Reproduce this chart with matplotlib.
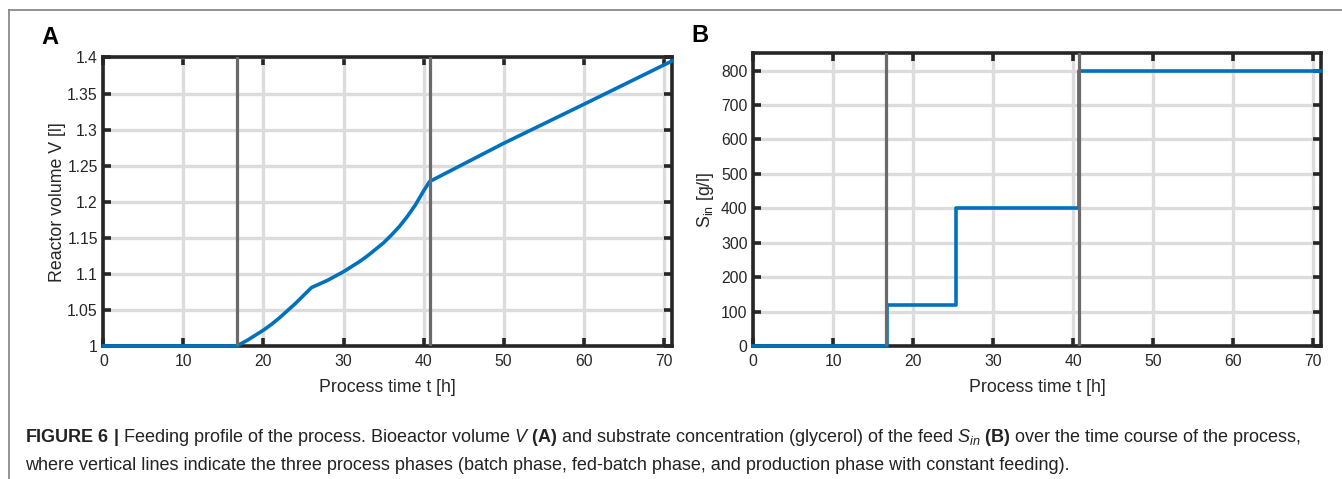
import matplotlib
matplotlib.use("Agg")
import matplotlib.pyplot as plt
from matplotlib.lines import Line2D

plt.rcParams['font.family'] = ['Liberation Sans', 'DejaVu Sans']
plt.rcParams['mathtext.fontset'] = 'custom'
plt.rcParams['mathtext.rm'] = 'Liberation Sans'
plt.rcParams['mathtext.it'] = 'Liberation Sans:italic'
plt.rcParams['mathtext.bf'] = 'Liberation Sans:bold'

# data
t_volume = [0, 16.6, 17, 18, 19, 20, 21, 22, 23, 24, 25, 26, 27, 28, 29, 30, 31, 32, 33,
            34, 35, 36, 37, 38, 39, 40, 40.75, 50, 60, 71]
volume = [1.0, 1.0, 1.002, 1.008, 1.015, 1.022, 1.030, 1.039, 1.049, 1.059, 1.070, 1.081,
          1.086, 1.091, 1.097, 1.103, 1.110, 1.117, 1.125, 1.134, 1.143, 1.154, 1.166,
          1.180, 1.196, 1.215, 1.228, 1.281, 1.335, 1.395]

t_feed = [0, 16.7, 16.7, 25.4, 25.4, 40.75, 40.75, 71]
s_in = [0, 0, 120, 120, 400, 400, 800, 800]

phase_bounds = [16.65, 40.75]

x_ticks = [0, 10, 20, 30, 40, 50, 60, 70]
v_ticks = [1, 1.05, 1.1, 1.15, 1.2, 1.25, 1.3, 1.35, 1.4]
v_labels = ['1', '1.05', '1.1', '1.15', '1.2', '1.25', '1.3', '1.35', '1.4']
s_ticks = [0, 100, 200, 300, 400, 500, 600, 700, 800]

blue = '#0072BD'
grey = '#6a6a6a'
dark = '#262626'

fig = plt.figure(figsize=(13.42, 4.79), dpi=100)

axA = fig.add_axes([0.077, 0.2777, 0.4236, 0.6023])
axB = fig.add_axes([0.5613, 0.2777, 0.4232, 0.6117])


def style(ax):
    ax.grid(True, color='#dcdcdc', linewidth=2.4)
    ax.set_axisbelow(True)
    for s in ax.spines.values():
        s.set_linewidth(2.6)
        s.set_color(dark)
    ax.tick_params(direction='in', length=5.5, width=2.6, color=dark,
                   top=True, right=True, labelsize=11.3, labelcolor=dark)
    ax.tick_params(axis='x', pad=6)
    ax.tick_params(axis='y', pad=4)
    ax.set_xlim(0, 71)
    ax.set_xticks(x_ticks)
    ax.set_xlabel('Process time t [h]', fontsize=12.8, color=dark, labelpad=7)


style(axA)
axA.plot(t_volume, volume, color=blue, linewidth=2.6, zorder=3, clip_on=False)
for b in phase_bounds:
    axA.axvline(b, color=grey, linewidth=2.3, zorder=4)
axA.set_ylim(1, 1.4)
axA.set_yticks(v_ticks)
axA.set_yticklabels(v_labels)
axA.set_ylabel('Reactor volume V [l]', fontsize=12.8, color=dark, labelpad=1)

style(axB)
axB.plot(t_feed, s_in, color=blue, linewidth=2.6, zorder=3, clip_on=False)
for b in phase_bounds:
    axB.axvline(b, color=grey, linewidth=2.3, zorder=4)
axB.set_ylim(0, 851)
axB.set_yticks(s_ticks)
axB.set_ylabel(r'$\mathregular{S_{in}}$ [g/l]', fontsize=12.8, color=dark, labelpad=4)

fig.text(50 / 1342, 1 - 37 / 479, 'A', fontsize=17, fontweight='bold', ha='center', va='center')
fig.text(700 / 1342, 1 - 36 / 479, 'B', fontsize=17, fontweight='bold', ha='center', va='center')

# frame around the figure
fig.add_artist(Line2D([9 / 1342, 1], [1 - 10 / 479, 1 - 10 / 479], color='#808080', linewidth=1.2))
fig.add_artist(Line2D([9 / 1342, 9 / 1342], [0, 1 - 10 / 479], color='#808080', linewidth=1.2))

line1 = (r'$\mathbf{FIGURE\ 6\ |}$ Feeding profile of the process. Bioeactor volume $\mathit{V}$ '
         r'$\mathbf{(A)}$ and substrate concentration (glycerol) of the feed $\mathit{S_{in}}$ '
         r'$\mathbf{(B)}$ over the time course of the process,')
line2 = ('where vertical lines indicate the three process phases (batch phase, fed-batch phase, '
         'and production phase with constant feeding).')
fig.text(25 / 1342, 1 - 437 / 479, line1, fontsize=13, color='#222222', va='center')
fig.text(25 / 1342, 1 - 465 / 479, line2, fontsize=13, color='#222222', va='center')

fig.savefig('out.png', dpi=100)
